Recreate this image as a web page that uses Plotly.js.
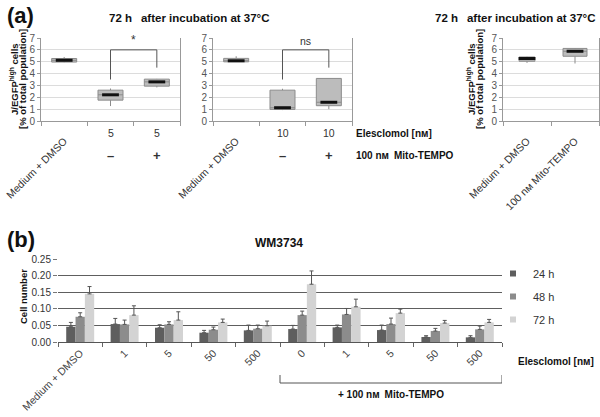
<!DOCTYPE html>
<html>
<head>
<meta charset="utf-8">
<script src="https://cdn.plot.ly/plotly-3.0.1.min.js"></script>
<style>html,body{margin:0;padding:0;background:#fff;}#chart{width:600px;height:417px;}</style>
</head>
<body>
<div id="chart"></div>
<script>
// ---------- Panel (a): box plots, 72 h after incubation ----------
const aTitle = '72 h\u2002 after incubation at 37°C';
const aYTitle1 = 'J/EGFP<sup>high</sup> cells';
const aYTitle2 = '[% of total population]';

// left subplot (Elesclomol 5 nM)
const a1Rot  = ['Medium + DMSO'];          // rotated label of category 0
const a1Conc = ['', '5', '5'];
const a1Mito = ['', '–', '+'];
const a1Q1  = [4.97, 1.76, 2.94];
const a1Med = [5.12, 2.21, 3.30];
const a1Q3  = [5.27, 2.60, 3.53];
const a1Lo  = [4.95, 1.26, 2.83];
const a1Hi  = [5.40, 2.74, 3.55];

// middle subplot (Elesclomol 10 nM)
const a2Rot  = ['Medium + DMSO'];
const a2Conc = ['', '10', '10'];
const a2Mito = ['', '–', '+'];
const a2Q1  = [4.99, 0.98, 1.29];
const a2Med = [5.08, 1.12, 1.58];
const a2Q3  = [5.28, 2.60, 3.59];
const a2Lo  = [4.98, 0.92, 1.00];
const a2Hi  = [5.46, 2.72, 3.60];

// right subplot (Mito-TEMPO alone)
const a3Rot = ['Medium + DMSO', '100 nᴍ Mito-TEMPO'];
const a3Q1  = [5.04, 5.46];
const a3Med = [5.27, 5.88];
const a3Q3  = [5.40, 6.12];
const a3Lo  = [4.90, 4.85];
const a3Hi  = [5.42, 6.14];
const a3Widths = [0.33, 0.5];

// significance brackets: [from, to], leg bottoms, top, label
const sig1 = {cats: [1, 2], legs: [3.5, 4.5], top: 6.0, label: '*'};
const sig2 = {cats: [1, 2], legs: [3.5, 4.5], top: 6.0, label: 'ns'};

const rowLabel1 = 'Elesclomol [nᴍ]';
const rowLabel2 = '100 nᴍ\u2002Mito-TEMPO';

// ---------- Panel (b): WM3734 cell number ----------
const bTitle = 'WM3734';
const bCats = ['Medium + DMSO', '1', '5', '50', '500', '0', '1', '5', '50', '500'];
const bSeries = ['24 h', '48 h', '72 h'];
const b24    = [0.046, 0.054, 0.043, 0.028, 0.035, 0.039, 0.044, 0.036, 0.015, 0.014];
const b24err = [0.013, 0.017, 0.009, 0.007, 0.016, 0.011, 0.007, 0.015, 0.004, 0.005];
const b48    = [0.076, 0.053, 0.053, 0.037, 0.040, 0.081, 0.083, 0.054, 0.033, 0.038];
const b48err = [0.012, 0.013, 0.008, 0.008, 0.011, 0.012, 0.018, 0.018, 0.008, 0.010];
const b72    = [0.145, 0.081, 0.066, 0.059, 0.049, 0.174, 0.106, 0.087, 0.057, 0.059];
const b72err = [0.022, 0.028, 0.025, 0.010, 0.014, 0.040, 0.023, 0.012, 0.008, 0.009];
const bMitoGroup = [5, 9]; // category indices covered by "+ 100 nM Mito-TEMPO"
const bMitoLabel = '+ 100 nᴍ\u2002Mito-TEMPO';

// ---------- helpers ----------
const W = 600, H = 417;
const FONT = 'Liberation Sans, Arial, Helvetica, DejaVu Sans, sans-serif';
const px = v => v / W;
const py = v => 1 - v / H;
const idx = arr => arr.map((_, i) => i);
const zeros = arr => arr.map(() => 0);

const BOX_FILL = '#bcbcbc', BOX_LINE = '#8c8c8c';
const GREYS = ['#5e5e5e', '#8c8c8c', '#d3d3d3'];

function boxTrace(xs, q1, med, q3, lo, hi, xa, ya, width) {
  return {
    type: 'box', x: xs, q1: q1, median: med, q3: q3, lowerfence: lo, upperfence: hi,
    xaxis: xa, yaxis: ya, width: width, whiskerwidth: 0, boxpoints: false,
    fillcolor: BOX_FILL, line: {color: BOX_LINE, width: 1}, showlegend: false, hoverinfo: 'skip'
  };
}
function medTrace(xs, med, xa, ya) {
  return {
    type: 'scatter', mode: 'markers', x: xs, y: med, xaxis: xa, yaxis: ya,
    marker: {symbol: 'line-ew', size: 12, color: '#111', line: {width: 3, color: '#111'}},
    showlegend: false, hoverinfo: 'skip'
  };
}

const traces = [];
const x1 = idx(a1Q1), x2 = idx(a2Q1);
traces.push(boxTrace(x1, a1Q1, a1Med, a1Q3, a1Lo, a1Hi, 'x', 'y', 0.54));
traces.push(medTrace(x1, a1Med, 'x', 'y'));
traces.push(boxTrace(x2, a2Q1, a2Med, a2Q3, a2Lo, a2Hi, 'x2', 'y2', 0.54));
traces.push(medTrace(x2, a2Med, 'x2', 'y2'));
a3Q1.forEach((_, i) => {
  traces.push(boxTrace([i], [a3Q1[i]], [a3Med[i]], [a3Q3[i]], [a3Lo[i]], [a3Hi[i]], 'x3', 'y3', a3Widths[i]));
});
traces.push(medTrace(idx(a3Q1), a3Med, 'x3', 'y3'));

// bars
const bx = idx(bCats);
[[b24, b24err], [b48, b48err], [b72, b72err]].forEach((s, k) => {
  traces.push({
    type: 'bar', x: bx, y: s[0], xaxis: 'x4', yaxis: 'y4', name: bSeries[k],
    marker: {color: GREYS[k], line: {width: 0}},
    error_y: {type: 'data', array: s[1], symmetric: false, arrayminus: zeros(s[1]),
              color: '#555', thickness: 1, width: 2},
    showlegend: false, hoverinfo: 'skip'
  });
  // legend key
  traces.push({
    type: 'scatter', mode: 'markers', x: [null], y: [null], xaxis: 'x4', yaxis: 'y4',
    name: bSeries[k], legendgroup: 'g' + k,
    marker: {symbol: 'square', size: 6, color: GREYS[k]}, hoverinfo: 'skip'
  });
});

// ---------- axes ----------
function boundaries(n) {
  const tv = [];
  for (let i = 0; i <= n; i++) tv.push(i - 0.5);
  return tv;
}
function aX(dom, n, rot) {
  return {domain: dom, range: [-0.5, n - 0.5], showgrid: false, zeroline: false,
          showline: true, linecolor: '#999', linewidth: 1, mirror: false,
          tickmode: 'array', tickvals: idx(rot), ticktext: rot, ticks: '', tickangle: -45,
          ticklabelstandoff: 9,
          tickfont: {family: FONT, size: 10.5, color: '#333'},
          minor: {tickmode: 'array', tickvals: boundaries(n), ticks: 'outside', ticklen: 4,
                  tickcolor: '#999', showgrid: false},
          fixedrange: true};
}
function aY(xa) {
  return {domain: [py(121), py(38)], range: [0, 7], dtick: 1, anchor: xa,
          showgrid: true, gridcolor: '#dcdcdc', gridwidth: 1, zeroline: false,
          showline: true, linecolor: '#999', linewidth: 1, mirror: true,
          ticks: 'outside', ticklen: 3, tickcolor: '#999',
          tickfont: {family: FONT, size: 10, color: '#555'}, fixedrange: true};
}

const layout = {
  width: W, height: H, margin: {l: 0, r: 0, t: 0, b: 0},
  paper_bgcolor: '#fff', plot_bgcolor: 'rgba(0,0,0,0)',
  font: {family: FONT, color: '#222'},
  hovermode: false, showlegend: true,
  barmode: 'group', bargap: 0.37, bargroupgap: 0,
  legend: {x: px(493), y: py(259), xanchor: 'left', yanchor: 'top',
           font: {family: FONT, size: 11, color: '#333'}, bgcolor: 'rgba(0,0,0,0)',
           tracegroupgap: 4, itemwidth: 30},
  xaxis: Object.assign(aX([px(41), px(180)], 3, a1Rot), {anchor: 'y'}),
  yaxis: aY('x'),
  xaxis2: Object.assign(aX([px(213), px(352)], 3, a2Rot), {anchor: 'y2'}),
  yaxis2: aY('x2'),
  xaxis3: Object.assign(aX([px(503), px(599)], 2, a3Rot), {anchor: 'y3'}),
  yaxis3: aY('x3'),
  xaxis4: {domain: [px(58), px(502)], range: [-0.5, bCats.length - 0.5], anchor: 'y4',
           showgrid: false, zeroline: false, showline: true, linecolor: '#555', linewidth: 1,
           tickmode: 'array', tickvals: bx, ticktext: bCats, ticks: '', tickangle: -45,
           tickfont: {family: FONT, size: 10.5, color: '#444'},
           minor: {tickmode: 'array', tickvals: boundaries(bx.length),
                   ticks: 'outside', ticklen: 4, tickcolor: '#666', showgrid: false},
           fixedrange: true},
  yaxis4: {domain: [py(342), py(259)], range: [0, 0.25], dtick: 0.05, tickformat: '.2f', anchor: 'x4',
           showgrid: true, gridcolor: '#5e5e5e', gridwidth: 1, zeroline: false, showline: false,
           ticks: 'outside', ticklen: 4, tickcolor: '#777',
           tickfont: {family: FONT, size: 10, color: '#333'}, fixedrange: true},
  shapes: [],
  annotations: []
};

const ann = layout.annotations;
function A(o) { ann.push(Object.assign({showarrow: false, font: {family: FONT, size: 10, color: '#222'}}, o)); }

// panel letters and titles
A({text: '<b>(a)</b>', xref: 'paper', yref: 'paper', x: px(5), y: py(15), xanchor: 'left', yanchor: 'middle', font: {family: FONT, size: 22, color: '#111'}});
A({text: '<b>(b)</b>', xref: 'paper', yref: 'paper', x: px(5), y: py(239), xanchor: 'left', yanchor: 'middle', font: {family: FONT, size: 22, color: '#111'}});
A({text: '<b>' + aTitle + '</b>', xref: 'paper', yref: 'paper', x: px(189), y: py(18), xanchor: 'center', yanchor: 'middle', font: {family: FONT, size: 11.5, color: '#111'}});
A({text: '<b>' + aTitle + '</b>', xref: 'paper', yref: 'paper', x: px(515), y: py(18), xanchor: 'center', yanchor: 'middle', font: {family: FONT, size: 11.5, color: '#111'}});
A({text: '<b>' + bTitle + '</b>', xref: 'paper', yref: 'paper', x: px(279), y: py(243), xanchor: 'center', yanchor: 'middle', font: {family: FONT, size: 12, color: '#111'}});

// y-axis titles of panel (a)
[[14, 23], [471, 480]].forEach(p => {
  A({text: '<b>' + aYTitle1 + '</b>', xref: 'paper', yref: 'paper', x: px(p[0]), y: py(79), xanchor: 'center', yanchor: 'middle', textangle: -90, font: {family: FONT, size: 9.5, color: '#111'}});
  A({text: '<b>' + aYTitle2 + '</b>', xref: 'paper', yref: 'paper', x: px(p[1]), y: py(79), xanchor: 'center', yanchor: 'middle', textangle: -90, font: {family: FONT, size: 9.5, color: '#111'}});
});
A({text: '<b>Cell number</b>', xref: 'paper', yref: 'paper', x: px(23), y: py(297), xanchor: 'center', yanchor: 'middle', textangle: -90, font: {family: FONT, size: 9.5, color: '#111'}});

// treatment rows under panel (a)
[['x', a1Conc, a1Mito], ['x2', a2Conc, a2Mito]].forEach(g => {
  const xa = g[0];
  g[1].forEach((t, i) => { if (t) A({text: t, xref: xa, yref: 'paper', x: i, y: py(133), xanchor: 'center', yanchor: 'middle', font: {family: FONT, size: 10.5, color: '#333'}}); });
  g[2].forEach((t, i) => { if (t) A({text: '<b>' + t + '</b>', xref: xa, yref: 'paper', x: i, y: py(155), xanchor: 'center', yanchor: 'middle', font: {family: FONT, size: 13, color: '#333'}}); });
});
A({text: '<b>' + rowLabel1 + '</b>', xref: 'paper', yref: 'paper', x: px(354), y: py(133), xanchor: 'left', yanchor: 'middle', font: {family: FONT, size: 10, color: '#111'}});
A({text: '<b>' + rowLabel2 + '</b>', xref: 'paper', yref: 'paper', x: px(354), y: py(155), xanchor: 'left', yanchor: 'middle', font: {family: FONT, size: 10, color: '#111'}});

// significance brackets
[[sig1, 'x', 'y', 12], [sig2, 'x2', 'y2', 10.5]].forEach(s => {
  const d = s[0];
  layout.shapes.push({type: 'path', xref: s[1], yref: s[2],
    path: 'M' + d.cats[0] + ',' + d.legs[0] + ' L' + d.cats[0] + ',' + d.top + ' L' + d.cats[1] + ',' + d.top + ' L' + d.cats[1] + ',' + d.legs[1],
    line: {color: '#555', width: 1}});
  A({text: d.label, xref: s[1], yref: s[2], x: (d.cats[0] + d.cats[1]) / 2, y: d.top, yshift: 1, xanchor: 'center', yanchor: 'bottom', font: {family: FONT, size: s[3], color: '#333'}});
});

// panel (b) extra labels and Mito-TEMPO bracket
A({text: '<b>' + rowLabel1 + '</b>', xref: 'paper', yref: 'paper', x: px(516), y: py(361), xanchor: 'left', yanchor: 'middle', font: {family: FONT, size: 10, color: '#111'}});
const g0 = bMitoGroup[0] - 0.5, g1 = bMitoGroup[1] + 0.5;
layout.shapes.push({type: 'path', xref: 'x4', yref: 'paper',
  path: 'M' + g0 + ',' + py(375) + ' L' + g0 + ',' + py(383) + ' L' + g1 + ',' + py(383) + ' L' + g1 + ',' + py(375),
  line: {color: '#555', width: 1}});
A({text: '<b>' + bMitoLabel + '</b>', xref: 'x4', yref: 'paper', x: (g0 + g1) / 2, y: py(394), xanchor: 'center', yanchor: 'middle', font: {family: FONT, size: 10, color: '#111'}});

Plotly.newPlot('chart', traces, layout, {staticPlot: true, displayModeBar: false});
</script>
</body>
</html>
